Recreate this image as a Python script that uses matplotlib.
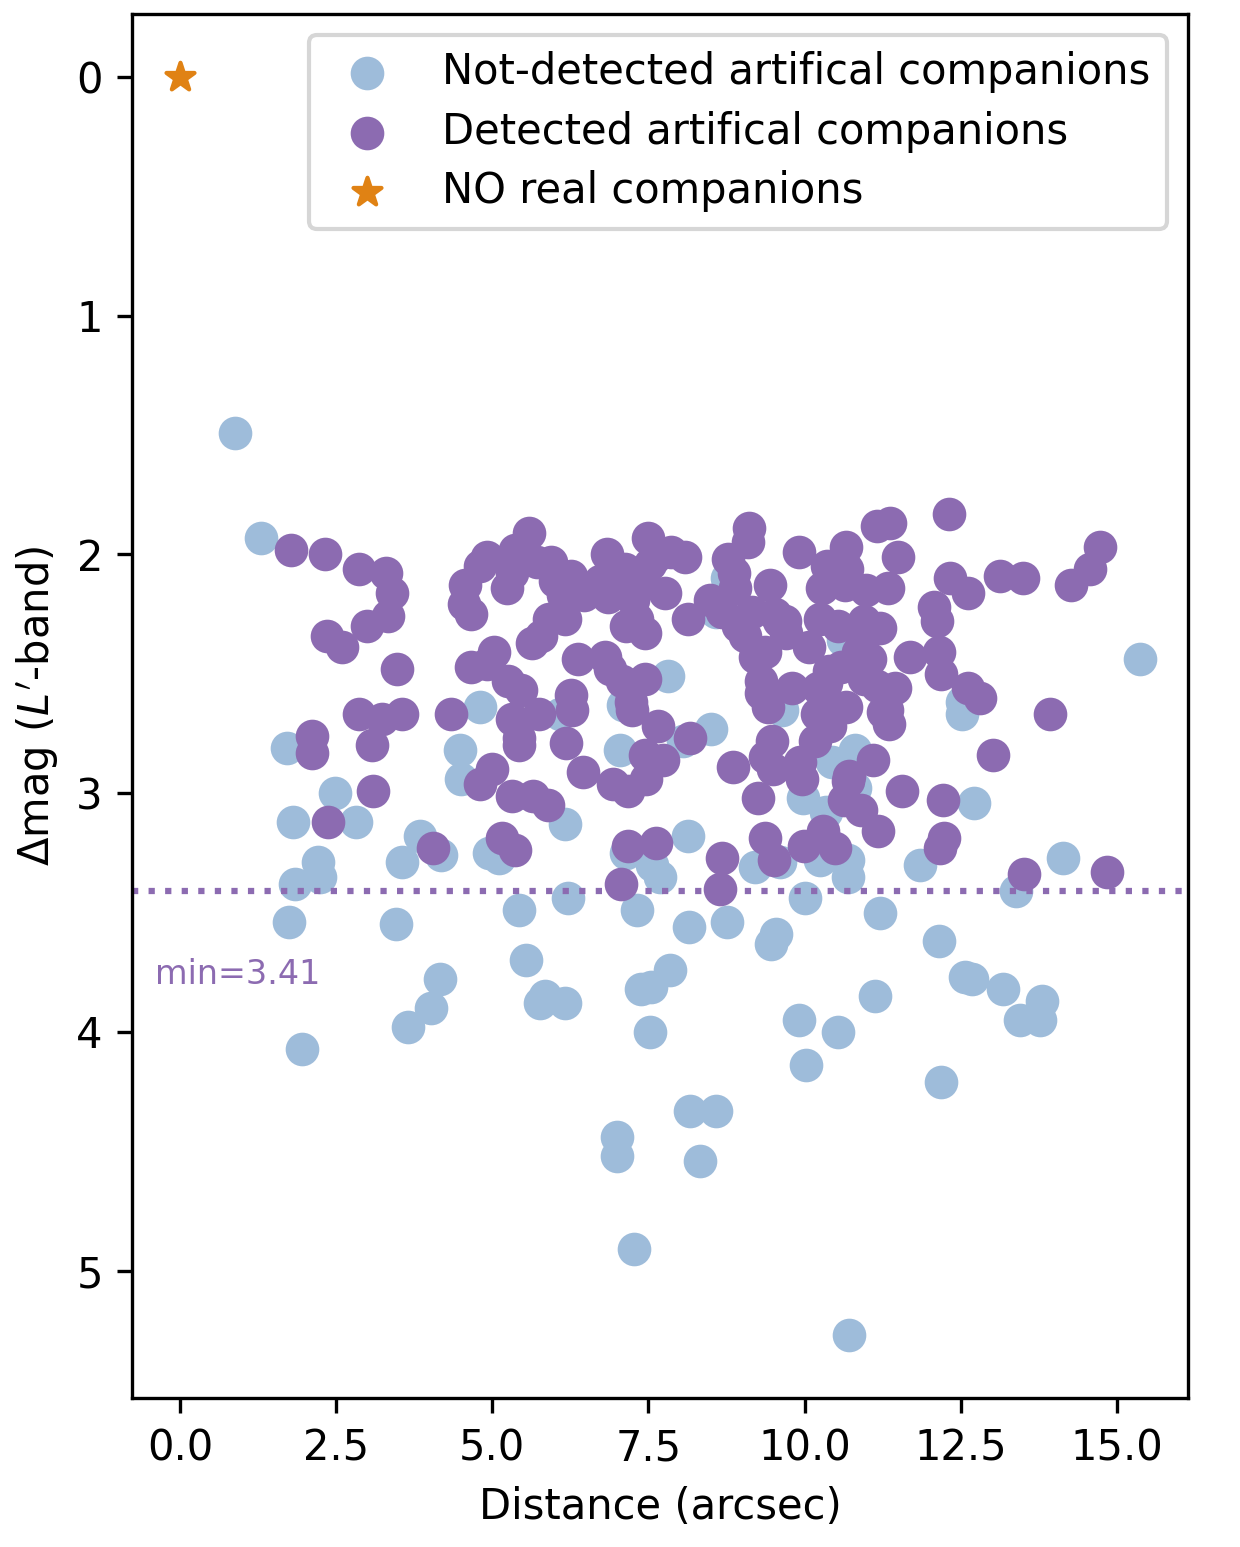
import numpy as np
import matplotlib
matplotlib.use('Agg')
import matplotlib.pyplot as plt

# not-detected artificial companions (distance arcsec, delta mag)
nd_x = [0.88, 1.30, 1.71, 1.81, 1.84, 1.74, 2.21, 2.24, 1.95, 2.48, 2.82, 3.55,
        3.46, 3.65, 3.84, 4.02, 4.16, 4.18, 4.48, 4.50, 4.80, 4.95, 5.11, 5.43,
        5.54, 5.76, 5.84, 6.16, 6.16, 6.21, 6.08, 7.04, 7.10, 7.14, 7.32, 7.38,
        7.54, 7.52, 7.56, 7.68, 7.81, 7.84, 8.05, 8.13, 8.15, 6.99, 6.99, 7.27,
        8.16, 8.58, 8.32, 8.50, 8.58, 8.76, 8.76, 9.20, 9.46, 9.54, 9.60, 9.64,
        9.97, 10.01, 10.02, 9.91, 10.53, 10.24, 10.34, 10.44, 10.61, 10.69, 10.69,
        10.81, 10.81, 11.13, 11.21, 10.71, 11.85, 12.16, 12.18, 12.52, 12.52,
        12.57, 12.68, 12.72, 13.17, 13.38, 13.45, 13.77, 13.80, 14.14, 15.37]
nd_y = [1.49, 1.93, 2.81, 3.12, 3.38, 3.54, 3.29, 3.35, 4.07, 3.00, 3.12, 3.29,
        3.55, 3.98, 3.18, 3.90, 3.78, 3.26, 2.82, 2.94, 2.64, 3.25, 3.27, 3.49,
        3.70, 3.88, 3.85, 3.13, 3.88, 3.44, 2.67, 2.82, 2.63, 3.25, 3.49, 3.82,
        3.81, 4.00, 3.30, 3.35, 2.51, 3.74, 2.78, 3.18, 3.56, 4.44, 4.52, 4.91,
        4.33, 4.33, 4.54, 2.73, 2.24, 2.10, 3.54, 3.31, 3.63, 3.59, 3.29, 2.65,
        3.02, 3.44, 4.14, 3.95, 4.00, 3.28, 3.08, 2.87, 2.36, 3.28, 3.35,
        2.82, 2.98, 3.85, 3.50, 5.27, 3.30, 3.62, 4.21, 2.62, 2.67,
        3.77, 3.78, 3.04, 3.82, 3.41, 3.95, 3.95, 3.87, 3.27, 2.44]

# detected artificial companions
d_x = [1.78, 2.11, 2.11, 2.32, 2.37, 2.35, 2.59, 2.87, 2.87, 3.00, 3.08, 3.09,
       3.23, 3.30, 3.39, 3.33, 3.47, 3.55, 4.05, 4.34, 4.56, 4.54, 4.66, 4.66,
       4.80, 4.91, 4.91, 5.03, 4.80, 4.99, 5.15, 5.31, 5.36, 5.23, 5.25, 5.31,
       5.43, 5.43, 5.46, 5.31, 5.36, 5.59, 5.64, 5.65, 5.71, 5.78, 5.74, 5.89,
       5.91, 5.94, 6.00, 6.13, 6.16, 6.18, 6.26, 6.26, 6.27, 6.37, 6.45, 6.47,
       6.31, 6.72, 6.80, 6.85, 6.83, 6.94, 6.88, 7.06, 7.08, 7.13, 7.22, 7.17,
       7.17, 7.22, 7.24, 7.14, 7.25, 7.32, 7.36, 7.44, 7.44, 7.46, 7.44, 7.49,
       7.52, 7.60, 7.62, 7.66, 7.76, 7.74, 7.86, 8.08, 8.13, 8.16, 8.48, 8.68,
       8.65, 8.68, 8.77, 8.87, 8.88, 8.85, 8.94, 9.05, 9.09, 9.11, 9.16, 9.20,
       9.25, 9.30, 9.31, 9.37, 9.37, 9.37, 9.41, 9.44, 9.48, 9.50, 9.51, 9.52,
       9.59, 9.70, 9.68, 9.80, 9.91, 9.93, 9.96, 9.99, 10.07, 10.16, 10.20,
       10.21, 10.24, 10.28, 10.29, 10.36, 10.34, 10.39, 10.40, 10.42, 10.48,
       10.50, 10.53, 10.58, 10.64, 10.63, 10.66, 10.66, 10.68, 10.69, 10.71,
       10.82, 10.85, 10.87, 10.90, 10.95, 10.95, 10.98, 11.05, 11.10, 11.16,
       11.16, 11.17, 11.20, 11.26, 11.32, 11.35, 11.37, 11.34, 11.45, 11.50,
       11.56, 11.69, 12.07, 12.12, 12.15, 12.18, 12.17, 12.21, 12.24, 12.31,
       12.33, 12.62, 12.62, 12.81, 13.02, 13.13, 13.49, 13.51, 13.93, 14.26,
       14.57, 14.73, 14.84]
d_y = [1.98, 2.76, 2.83, 2.00, 3.12, 2.34, 2.39, 2.06, 2.67, 2.30, 2.80, 2.99,
       2.69, 2.08, 2.16, 2.26, 2.48, 2.67, 3.23, 2.67, 2.13, 2.21, 2.25, 2.47,
       2.05, 2.01, 2.46, 2.41, 2.96, 2.90, 3.19, 2.08, 1.98, 2.14, 2.53, 2.69,
       2.77, 2.80, 2.57, 3.01, 3.24, 1.91, 2.37, 3.01, 2.03, 2.34, 2.67, 3.05,
       2.27, 2.03, 2.11, 2.17, 2.27, 2.79, 2.09, 2.59, 2.65, 2.44, 2.91, 2.17,
       2.15, 2.11, 2.43, 2.18, 2.00, 2.96, 2.48, 3.38, 2.53, 2.06, 2.11, 3.22,
       2.99, 2.62, 2.65, 2.30, 2.19, 2.27, 2.11, 2.33, 2.52, 2.94, 2.84, 1.93,
       2.04, 2.01, 3.21, 2.72, 2.16, 2.86, 1.99, 2.01, 2.27, 2.77, 2.19, 3.27,
       3.40, 2.24, 2.02, 2.08, 2.14, 2.89, 2.30, 2.34, 1.95, 1.89, 2.24, 2.43,
       3.02, 2.53, 2.58, 2.85, 2.41, 3.19, 2.64, 2.13, 2.78, 2.90, 3.28, 2.25,
       2.28, 2.33, 2.28, 2.56, 1.99, 2.87, 2.94, 3.22, 2.39, 2.78, 2.67,
       2.56, 2.27, 2.14, 3.16, 2.05, 2.54, 2.49, 2.72, 2.65, 3.23,
       2.08, 2.30, 2.47, 2.13, 3.03, 1.97, 2.64, 2.06, 2.95, 2.93,
       2.47, 2.41, 2.32, 3.07, 2.28, 2.52, 2.15, 2.44, 2.86, 2.55,
       1.88, 3.16, 2.31, 2.66, 2.65, 2.71, 1.87, 2.14, 2.56, 2.01,
       2.99, 2.43, 2.22, 2.28, 2.41, 2.50, 3.23, 3.03, 3.19, 1.83,
       2.10, 2.16, 2.56, 2.60, 2.84, 2.09, 2.10, 3.34, 2.67, 2.13,
       2.06, 1.97, 3.33]

# real companions (none, only the star itself)
real_x = [0.0]
real_y = [0.0]
min_mag = 3.41

fig = plt.figure(figsize=(1240/300., 1547/300.), dpi=300)
ax = fig.add_subplot(111)
fig.subplots_adjust(left=0.1065, right=0.958, top=0.991, bottom=0.0963)

ax.scatter(nd_x, nd_y, s=50, color='#9ebcda', label='Not-detected artifical companions')
ax.scatter(d_x, d_y, s=50, color='#8c6bb1', label='Detected artifical companions')
ax.scatter(real_x, real_y, s=50, marker='*', color='#e08214', label='NO real companions')
ax.axhline(min_mag, ls=':', lw=1.5, color='#8c6bb1')
ax.text(-0.4, 3.8, 'min=%.2f' % min_mag, color='#8c6bb1', fontsize=8)

ax.invert_yaxis()
ax.set_xlabel('Distance (arcsec)')
ax.set_ylabel(r"$\Delta$mag ($L'$-band)")
ax.legend(loc='upper right', labelspacing=0.42)

plt.savefig('out.png', dpi=300)
